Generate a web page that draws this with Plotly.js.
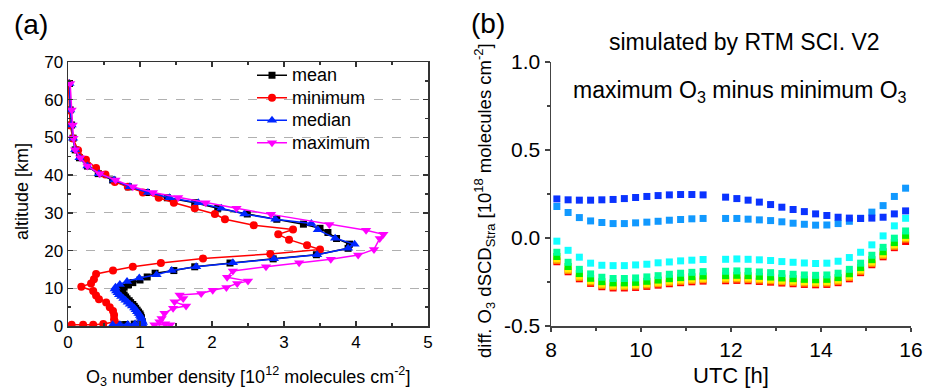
<!DOCTYPE html>
<html>
<head>
<meta charset="utf-8">
<script src="https://cdn.plot.ly/plotly-3.0.1.min.js"></script>
<style>html,body{margin:0;padding:0;background:#fff;}#chart{width:934px;height:391px;}</style>
</head>
<body>
<div id="chart"></div>
<script>
// ---------- Panel (a): O3 profiles ----------
const meanAlt = [64.3,57.3,53.3,49.8,46.7,44.6,42.4,40.4,38.7,36.9,35.4,34.0,32.7,31.2,29.7,28.3,27.0,25.9,24.8,23.2,21.7,20.6,18.9,17.8,16.7,15.7,14.7,14.0,13.0,12.2,11.5,10.9,10.3,9.7,9.2,8.7,8.2,7.7,7.2,6.7,6.2,5.7,5.2,4.7,4.2,3.7,3.2,2.7,2.2,1.7,1.2,0.8,0.5,0.4,0.35];
const meanVal = [0.02,0.03,0.05,0.07,0.10,0.16,0.27,0.42,0.62,0.84,1.09,1.38,1.76,2.08,2.49,2.90,3.27,3.50,3.61,3.73,3.91,3.89,3.45,2.85,2.25,1.76,1.47,1.21,1.10,1.00,0.90,0.84,0.78,0.745,0.75,0.76,0.78,0.80,0.82,0.85,0.87,0.90,0.92,0.94,0.96,0.98,1.00,1.01,1.02,1.02,1.03,1.03,0.92,0.80,0.70];

const minAlt = [64.3,57.2,53.2,49.7,46.6,44.1,41.9,40.2,38.2,36.9,35.4,34.0,32.7,31.2,29.7,28.3,26.7,25.6,24.3,22.9,21.4,20.3,19.1,17.9,16.7,15.7,14.7,13.8,12.4,11.3,10.4,9.3,8.1,7.1,6.2,5.0,4.0,2.9,1.8,1.1,0.5,0.3,0.3,0.3];
const minVal = [0.005,0.015,0.03,0.07,0.14,0.25,0.39,0.52,0.65,0.83,1.04,1.26,1.47,1.76,2.04,2.18,2.58,3.125,2.92,3.07,3.32,3.50,2.81,1.875,1.29,0.90,0.625,0.39,0.36,0.32,0.185,0.35,0.39,0.43,0.53,0.58,0.625,0.64,0.64,0.65,0.49,0.35,0.21,0.05];

const medAlt = [64.3,57.3,53.3,49.8,46.7,44.6,42.4,40.4,38.7,36.9,35.4,34.0,32.7,31.2,29.7,28.3,27.2,25.5,23.3,21.7,20.6,18.9,17.8,16.8,15.7,14.7,13.6,12.7,11.8,11.0,10.3,9.8,9.3,8.8,8.3,7.8,7.3,6.8,6.3,5.8,5.3,4.8,4.3,3.8,3.3,2.8,2.3,1.8,1.3,0.9,0.6,0.5,0.4,0.35,0.3];
const medVal = [0.02,0.03,0.05,0.07,0.10,0.16,0.27,0.43,0.64,0.86,1.11,1.41,1.81,2.13,2.45,2.88,3.38,3.47,3.71,3.98,3.89,3.46,2.86,2.29,1.78,1.44,1.23,0.99,0.82,0.72,0.66,0.65,0.67,0.69,0.71,0.74,0.77,0.80,0.83,0.86,0.89,0.92,0.94,0.96,0.98,1.00,1.01,1.02,1.03,1.04,1.03,0.93,0.83,0.72,0.62];

const maxAlt = [64.3,57.3,53.3,49.8,46.7,44.6,42.4,40.4,38.7,36.9,35.4,34.1,32.7,31.2,29.6,26.9,25.4,24.3,23.2,20.3,18.8,17.7,16.8,15.7,14.6,12.9,11.9,11.3,10.2,9.5,8.6,8.2,7.3,6.4,5.3,4.7,3.4,2.0,1.1,0.6,0.3,0.3];
const maxVal = [0.03,0.05,0.065,0.075,0.10,0.17,0.27,0.44,0.66,0.90,1.18,1.53,1.91,2.34,2.82,3.63,4.14,4.38,4.33,4.25,4.03,3.65,3.21,2.75,2.29,2.21,2.50,2.35,2.20,2.01,1.85,1.55,1.60,1.48,1.64,1.46,1.34,1.30,1.27,1.35,1.42,1.20];

const profileNames = ["mean","minimum","median","maximum"];

// ---------- Panel (b): dSCD differences ----------
const utc = [8.13,8.38,8.63,8.88,9.13,9.38,9.63,9.88,10.13,10.38,10.63,10.88,11.13,11.38,11.88,12.13,12.38,12.63,12.88,13.13,13.38,13.63,13.88,14.13,14.38,14.63,14.88,15.13,15.38,15.63,15.88];
const dBlue  = [0.222,0.217,0.215,0.215,0.217,0.219,0.224,0.230,0.236,0.241,0.245,0.247,0.247,0.245,0.232,0.224,0.215,0.204,0.190,0.175,0.162,0.150,0.137,0.128,0.118,0.113,0.111,0.113,0.118,0.137,0.154];
const dLightBlue = [0.179,0.145,0.116,0.097,0.088,0.082,0.082,0.086,0.090,0.095,0.101,0.105,0.109,0.111,0.111,0.111,0.107,0.103,0.099,0.092,0.084,0.078,0.073,0.074,0.082,0.095,0.112,0.147,0.184,0.236,0.283];
const dCyan  = [-0.018,-0.070,-0.109,-0.143,-0.155,-0.157,-0.157,-0.153,-0.149,-0.141,-0.136,-0.130,-0.126,-0.122,-0.121,-0.119,-0.121,-0.124,-0.128,-0.134,-0.138,-0.142,-0.145,-0.143,-0.132,-0.111,-0.081,-0.039,0.012,0.069,0.112];
const dMint  = [-0.081,-0.138,-0.178,-0.204,-0.223,-0.230,-0.230,-0.227,-0.221,-0.214,-0.206,-0.200,-0.195,-0.191,-0.189,-0.187,-0.189,-0.193,-0.197,-0.202,-0.206,-0.210,-0.212,-0.210,-0.200,-0.178,-0.143,-0.098,-0.053,-0.001,0.040];
const dGreen = [-0.105,-0.162,-0.202,-0.229,-0.248,-0.255,-0.255,-0.252,-0.246,-0.239,-0.231,-0.225,-0.220,-0.216,-0.214,-0.212,-0.214,-0.218,-0.222,-0.227,-0.231,-0.235,-0.237,-0.235,-0.225,-0.203,-0.168,-0.123,-0.078,-0.026,0.015];
const dYellow = [-0.118,-0.176,-0.216,-0.242,-0.261,-0.268,-0.268,-0.265,-0.259,-0.252,-0.244,-0.238,-0.233,-0.229,-0.227,-0.225,-0.227,-0.231,-0.235,-0.240,-0.244,-0.248,-0.250,-0.248,-0.238,-0.216,-0.181,-0.136,-0.091,-0.039,0.002];
const dOrange = [-0.127,-0.184,-0.224,-0.250,-0.269,-0.276,-0.276,-0.273,-0.267,-0.260,-0.252,-0.246,-0.241,-0.237,-0.235,-0.233,-0.235,-0.239,-0.243,-0.248,-0.252,-0.256,-0.258,-0.256,-0.246,-0.224,-0.189,-0.144,-0.099,-0.047,-0.006];
const dRed   = [-0.135,-0.192,-0.232,-0.258,-0.277,-0.284,-0.284,-0.281,-0.275,-0.268,-0.260,-0.254,-0.249,-0.245,-0.243,-0.241,-0.243,-0.247,-0.251,-0.256,-0.260,-0.264,-0.266,-0.264,-0.254,-0.232,-0.197,-0.152,-0.107,-0.055,-0.020];

const xTicksB = [8,10,12,14,16];
const yTickValsB = [-0.5,0,0.5,1.0];
const yTickTextB = ["-0.5","0.0","0.5","1.0"];

const FONT = "Liberation Sans, Arial, Helvetica, sans-serif";
const W = 934, H = 391;
const px = (x)=>x/W, py = (y)=>1-y/H;

const profileStyles = [
  {color:"#000000", symbol:"square", size:7},
  {color:"#ff0000", symbol:"circle", size:8},
  {color:"#0026ff", symbol:"triangle-up", size:9},
  {color:"#ff00ff", symbol:"triangle-down", size:9}
];
const profiles = [[meanVal,meanAlt],[minVal,minAlt],[medVal,medAlt],[maxVal,maxAlt]];
const traces = profiles.map((p,i)=>({
  type:"scatter", mode:"lines+markers", x:p[0], y:p[1],
  name:'<span style="font-size:18px">'+profileNames[i]+'</span>',
  xaxis:"x", yaxis:"y",
  line:{color:profileStyles[i].color, width:1.5},
  marker:{color:profileStyles[i].color, symbol:profileStyles[i].symbol, size:profileStyles[i].size}
}));

const bSeries = [
  [dRed,"#ff0000"],[dOrange,"#ff9900"],[dYellow,"#ffee00"],[dGreen,"#00ee00"],[dMint,"#00ff99"],
  [dCyan,"#11ffff"],[dLightBlue,"#1199ff"],[dBlue,"#0a33ff"]
];
bSeries.forEach(s=>traces.push({
  type:"scatter", mode:"markers", x:utc, y:s[0], xaxis:"x2", yaxis:"y2", showlegend:false,
  marker:{color:s[1], symbol:"square", size:7}
}));

const yDom = [py(326), py(62)];
const layout = {
  width:W, height:H, margin:{l:0,r:0,t:0,b:0},
  paper_bgcolor:"#fff", plot_bgcolor:"#fff",
  font:{family:FONT, color:"#000"},
  showlegend:true,
  legend:{x:px(252), y:py(59), xanchor:"left", yanchor:"top", bgcolor:"rgba(0,0,0,0)",
          font:{size:15, family:FONT}, tracegroupgap:0, itemwidth:30},
  xaxis:{domain:[px(68),px(428)], range:[0,5], anchor:"y", dtick:1, tick0:0,
    ticks:"inside", ticklen:5, tickwidth:1.3, tickcolor:"#333", showline:true, linewidth:1.5, linecolor:"#333",
    mirror:"ticks", showgrid:false, zeroline:false, automargin:false,
    tickfont:{size:17, family:FONT},
    minor:{dtick:0.5, ticks:"inside", ticklen:3, tickcolor:"#333"}},
  yaxis:{domain:yDom, range:[0,70], anchor:"x", dtick:10, tick0:0,
    ticks:"inside", ticklen:5, tickwidth:1.3, tickcolor:"#333", showline:true, linewidth:1.5, linecolor:"#333",
    mirror:"ticks", showgrid:true, gridcolor:"#b0b0b0", griddash:"dash", gridwidth:1, zeroline:false, automargin:false,
    tickfont:{size:17, family:FONT},
    minor:{dtick:5, ticks:"inside", ticklen:3, tickcolor:"#333", showgrid:false}},
  xaxis2:{domain:[px(551),px(911)], range:[8,16], anchor:"y2", tickvals:xTicksB,
    ticks:"outside", ticklen:4, tickwidth:1.3, tickcolor:"#444", showline:true, linewidth:1.5, linecolor:"#444",
    showgrid:false, zeroline:false, automargin:false, tickfont:{size:21, family:FONT},
    minor:{tickmode:"linear", tick0:8, dtick:1, ticks:"outside", ticklen:3, tickcolor:"#444"}},
  yaxis2:{domain:yDom, range:[-0.5,1.0], anchor:"x2", tickvals:yTickValsB, ticktext:yTickTextB,
    ticks:"outside", ticklen:5, tickwidth:1.3, tickcolor:"#444", showline:true, linewidth:1.5, linecolor:"#444",
    showgrid:false, zeroline:false, automargin:false, tickfont:{size:21, family:FONT},
    minor:{tickmode:"linear", tick0:-0.5, dtick:0.25, ticks:"outside", ticklen:3, tickcolor:"#444"}},
  annotations:[
    {text:"(a)", xref:"paper", yref:"paper", x:px(12), y:py(25), xanchor:"left", yanchor:"middle", showarrow:false, font:{size:28, family:FONT}},
    {text:"(b)", xref:"paper", yref:"paper", x:px(469), y:py(23), xanchor:"left", yanchor:"middle", showarrow:false, font:{size:28, family:FONT}},
    {text:"simulated by RTM SCI. V2", xref:"paper", yref:"paper", x:px(744), y:py(42), xanchor:"center", yanchor:"middle", showarrow:false, font:{size:23, family:FONT}},
    {text:"maximum O<sub>3</sub> minus minimum O<sub>3</sub>", xref:"paper", yref:"paper", x:px(571), y:py(91), xanchor:"left", yanchor:"middle", showarrow:false, font:{size:23, family:FONT}},
    {text:"O<sub>3</sub> number density [10<sup>12</sup> molecules cm<sup>-2</sup>]", xref:"paper", yref:"paper", x:px(248), y:py(376), xanchor:"center", yanchor:"middle", showarrow:false, font:{size:18, family:FONT}},
    {text:"altitude [km]", xref:"paper", yref:"paper", x:px(22), y:py(192), xanchor:"center", yanchor:"middle", textangle:-90, showarrow:false, font:{size:18, family:FONT}},
    {text:"UTC [h]", xref:"paper", yref:"paper", x:px(731), y:py(375), xanchor:"center", yanchor:"middle", showarrow:false, font:{size:22, family:FONT}},
    {text:"diff. O<sub>3</sub> dSCD<sub>Stra</sub> [10<sup>18</sup> molecules cm<sup>-2</sup>]", xref:"paper", yref:"paper", x:px(484), y:py(201), xanchor:"center", yanchor:"middle", textangle:-90, showarrow:false, font:{size:18.5, family:FONT}}
  ]
};

Plotly.newPlot("chart", traces, layout, {displayModeBar:false, staticPlot:true});
</script>
</body>
</html>
